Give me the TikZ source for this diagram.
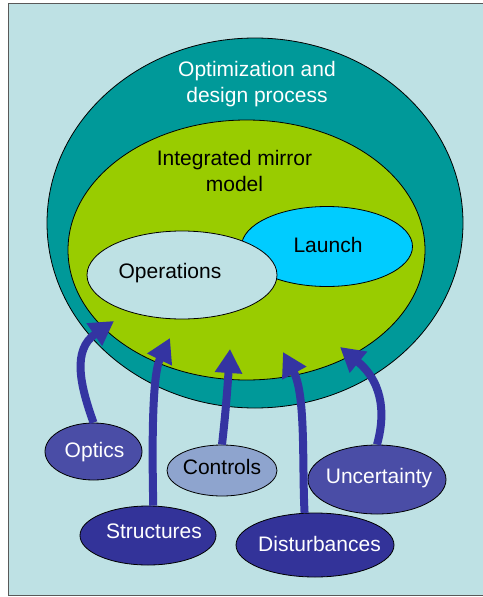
\documentclass[tikz,border=0pt]{standalone}
\usepackage{fontspec}
\setmainfont{Liberation Sans}
\usetikzlibrary{shapes.geometric,arrows.meta}
\definecolor{bgc}{HTML}{BEE1E4}
\definecolor{tealc}{HTML}{009999}
\definecolor{greenc}{HTML}{99CC00}
\definecolor{launchc}{HTML}{00CCFF}
\definecolor{opc}{HTML}{BEE1E4}
\definecolor{darkb}{HTML}{333399}
\definecolor{midb}{HTML}{4A4DA6}
\definecolor{ctrlc}{HTML}{8EA4CE}
\definecolor{arrc}{HTML}{3434A2}
\tikzset{
  ell/.style={ellipse, draw=black, line width=0.8pt, inner sep=0pt},
  lbl/.style={font=\fontsize{21}{26}\selectfont, align=center, inner sep=0pt},
  bigarrow/.style={draw=arrc, line width=8pt, -{Triangle[length=24pt,width=26pt]}},
}
\begin{document}
\begin{tikzpicture}[x=1pt,y=-1pt]
\useasboundingbox (0,0) rectangle (482,597);
\fill[bgc] (8,3) rectangle (490,595);
\draw[gray!70!black, line width=1pt] (490,3) -- (8,3) -- (8,595) -- (490,595);
% big ellipses
\node[ell, fill=tealc, minimum width=416pt, minimum height=370pt] (outer) at (255,223) {};
\node[ell, fill=greenc, minimum width=357pt, minimum height=260pt] (model) at (246.5,250) {};
\node[ell, fill=launchc, minimum width=171pt, minimum height=80pt] (launch) at (327,246.5) {};
\node[ell, fill=opc, minimum width=190pt, minimum height=88pt] (ops) at (182,275) {};
\node[lbl, text=white] (toplbl) at (257,84) {Optimization and\\design process};
\node[lbl] (modellbl) at (234.5,170.5) {Integrated mirror\\model};
\node[lbl] (launchlbl) at (328,245) {Launch};
\node[lbl] (opslbl) at (170,273) {Operations};
% small ellipses
\node[ell, fill=midb, minimum width=97pt, minimum height=57pt] (optics) at (93.5,451.5) {};
\node[ell, fill=ctrlc, minimum width=110pt, minimum height=51pt] (controls) at (222,470.5) {};
\node[ell, fill=midb, minimum width=138pt, minimum height=69pt] (uncert) at (377,479.5) {};
\node[ell, fill=darkb, minimum width=136pt, minimum height=59pt] (struct) at (148,535.5) {};
\node[ell, fill=darkb, minimum width=158pt, minimum height=64pt] (dist) at (315,545) {};
\node[lbl, text=white] (opticslbl) at (94.5,452) {Optics};
\node[lbl] (controlslbl) at (222,467) {Controls};
\node[lbl, text=white] (uncertlbl) at (379,478) {Uncertainty};
\node[lbl, text=white] (structlbl) at (154,531) {Structures};
\node[lbl, text=white] (distlbl) at (319.5,544) {Disturbances};
% arrow tips
\coordinate (tOptics) at (114,321);
\coordinate (tStruct) at (170,338);
\coordinate (tCtrl) at (230,349);
\coordinate (tDist) at (283,352);
\coordinate (tUnc) at (340,347);
\draw[bigarrow] (optics.north) .. controls (80,385) and (72,350) .. (tOptics);
\draw[bigarrow] (struct.80) .. controls (152,445) and (152,375) .. (tStruct);
\draw[bigarrow] (controls.north) .. controls (226,410) and (228,380) .. (tCtrl);
\draw[bigarrow] (dist.108) .. controls (302,465) and (306,395) .. (tDist);
\draw[bigarrow] (uncert.north) .. controls (384,420) and (386,385) .. (tUnc);
\end{tikzpicture}
\end{document}
